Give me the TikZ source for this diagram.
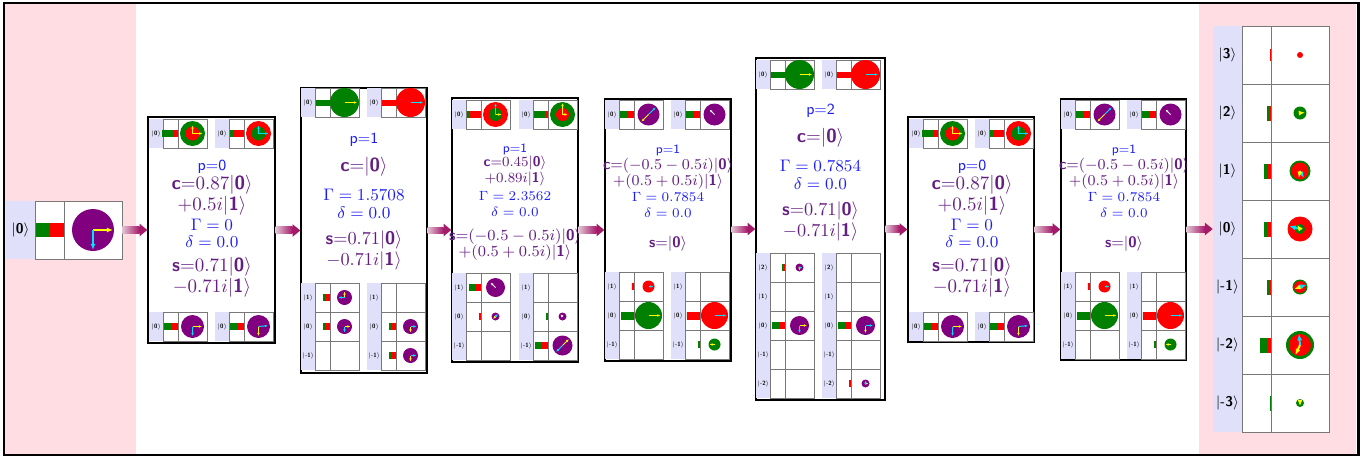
\documentclass[tikz,border=0pt]{standalone}
\usepackage{fix-cm}
\usepackage{amsmath}
\usepackage{fontspec}
\usetikzlibrary{arrows.meta,positioning,calc,fit}

\definecolor{qgreen}{RGB}{0,128,0}
\definecolor{qred}{RGB}{255,0,0}
\definecolor{qpurple}{RGB}{128,0,128}
\definecolor{qyellow}{RGB}{255,255,0}
\definecolor{qcyan}{RGB}{0,225,255}
\definecolor{qlav}{RGB}{224,224,250}
\definecolor{qpink}{RGB}{255,221,226}
\definecolor{qgrid}{RGB}{120,120,120}
\definecolor{qblue}{RGB}{30,30,245}
\definecolor{qtext}{RGB}{100,30,130}
\definecolor{flowL}{RGB}{225,195,210}
\definecolor{flowR}{RGB}{165,25,105}

\newcommand\bsf[1]{\text{\sffamily\bfseries #1}}
\newcommand\ket[1]{|\bsf{#1}\rangle}
\newcommand\pl[2][8.8]{\textcolor{qblue}{\fontsize{#1}{#1}\selectfont\sffamily #2}}
\newcommand\gl[2][9.5]{\textcolor{qblue}{\fontsize{#1}{#1}\selectfont$#2$}}
\newcommand\cl[2][10.8]{\textcolor{qtext}{\fontsize{#1}{#1}\selectfont$#2$}}

% register table: position, scale, name prefix, label font, rows
\newcommand\qtable[5]{%
  \begin{scope}[shift={#1}, scale=#2, name prefix=#3-]
    \foreach \lab/\g/\r/\h/\R/\oc/\ir/\ic/\arr [count=\k from 0] in {#5} {
      \pgfmathsetmacro\yt{58*\k}
      \fill[qlav] (0,\yt) rectangle ++(29,58);
      \fill[white] (29,\yt) rectangle ++(87,58);
      \draw[grid] (29,\yt) rectangle ++(87,58) (58,\yt) -- ++(0,58);
      \fill[qgreen] (58-\r-\g,\yt+29-\h/2) rectangle ++(\g,\h);
      \fill[qred] (58-\r,\yt+29-\h/2) rectangle ++(\r,\h);
      \fill[\oc] (87,\yt+29) circle (\R);
      \fill[\ic] (87,\yt+29) circle (\ir);
      \foreach \acol/\aang/\alen in \arr {
        \ifdim\alen pt>0pt
          \draw[vec, line width=#2*1.1pt, \acol] (87,\yt+29) -- ++(\aang:\alen);
        \fi}
      \node[font=#4, inner sep=0pt] (l\k) at (14.5,\yt+29) {$\lab$};
    }
  \end{scope}}
\newcommand\smalltab[3]{\qtable{#1}{0.5}{#2}{\fontsize{3.5}{4}\selectfont}{#3}}

% shaded flow arrow between two nodes
\newcommand\flow[2]{%
  \shade[left color=flowL, right color=flowR]
    ($(#1.east)+(0,-3.3)$) rectangle ($(#2.west)+(-7.7,3.3)$);
  \fill[flowR] ($(#2.west)+(-7.7,-6.3)$) -- (#2.west) -- ($(#2.west)+(-7.7,6.3)$) -- cycle;}

\begin{document}
\begin{tikzpicture}[x=0.02cm, y=-0.02cm,
  stepbox/.style 2 args={draw, fill=white, line width=0.8pt,
    minimum width=#1*0.02cm, minimum height=#2*0.02cm, inner sep=0pt},
  grid/.style={draw=qgrid, line width=0.45pt},
  vec/.style={-{Latex[length=0pt 3.2, width=0pt 2.6]}},
  txt/.style={inner sep=0pt}
]
  \useasboundingbox (0,0) rectangle (1367,460);
  \fill[qpink] (5,4) rectangle (136,454);
  \fill[qpink] (1199,4) rectangle (1356,454);
  \draw[line width=1.7pt] (4,3) rectangle (1358,455);

  \node[stepbox={127}{226}] (b1) at (211.5,230) {};
  \node[stepbox={126}{285}] (b2) at (364,230.5) {};
  \node[stepbox={126}{264}] (b3) at (515,230) {};
  \node[stepbox={126}{262}] (b4) at (668,230) {};
  \node[stepbox={129}{342}] (b5) at (820.5,229) {};
  \node[stepbox={126}{225}] (b6) at (971,229.5) {};
  \node[stepbox={125}{261}] (b7) at (1123.5,229.5) {};

  % input and output registers
  \qtable{(6,201)}{1}{in}{\fontsize{8}{9}\selectfont}{%
    \ket{0}/14/14/14/21/qpurple/0/qpurple/{qyellow/0/20,qcyan/90/20}}
  \node[inner sep=0pt, fit={(6,201) (122,259)}] (input) {};
  \qtable{(1213,26)}{1}{out}{\fontsize{8}{9}\selectfont}{%
    \ket{3}/0.7/0.7/12/3/qred/0/qred/{white/0/0},
    \ket{2}/2/2/15/6.5/qgreen/0/qgreen/{qyellow/-5/5},
    \ket{1}/3.5/3.5/15/10.5/qgreen/8.5/qred/{qcyan/60/8,qyellow/100/7},
    \ket{0}/3/4/15/12.5/qred/5/qgreen/{qcyan/195/11,qyellow/235/5},
    \ket{-1}/2/2/15/7.5/qgreen/6/qred/{qcyan/-20/7,qyellow/160/6},
    \ket{-2}/7/4/15/14/qgreen/11/qred/{qcyan/-95/11,qyellow/115/11},
    \ket{-3}/1.5/0/15/4/qgreen/0/qgreen/{qyellow/90/3}}
  \node[inner sep=0pt, fit={(1213,26) (1329,432)}] (final) {};

  % boxes 1 and 6
  \foreach \dx/\nm in {0/b1, 760/b6} {
    \smalltab{(149+\dx,119)}{\nm tl}{\ket{0}/24/8/14/25/qgreen/14/qred/{qyellow/0/20,qyellow/-90/16}}
    \smalltab{(215+\dx,119)}{\nm tr}{\ket{0}/8/20/14/25/qred/14/qgreen/{qcyan/0/20,qcyan/-90/16}}
    \smalltab{(149+\dx,312)}{\nm bl}{\ket{0}/14/14/14/23/qpurple/0/qpurple/{qyellow/0/19,qcyan/90/19}}
    \smalltab{(215+\dx,312)}{\nm br}{\ket{0}/14/14/14/23/qpurple/0/qpurple/{qcyan/-5/19,qyellow/90/19}}
    \foreach \yy/\tx [count=\k] in {0/{\pl{p=0}},
        18/{\cl{\bsf{c}{=}0.87\ket{0}}}, 39/{\cl{+0.5i\ket{1}}},
        58/{\gl{\Gamma = 0}}, 75/{\gl{\delta = 0.0}},
        100/{\cl{\bsf{s}{=}0.71\ket{0}}}, 121/{\cl{-0.71i\ket{1}}}}
      \node[txt] (\nm-t\k) at (212+\dx,167+\yy) {\tx};
  }

  % boxes 2 and 5
  \foreach \dx/\dy/\nm in {0/0/b2, 455/-28/b5} {
    \smalltab{(301+\dx,88+\dy)}{\nm tl}{\ket{0}/28/0/12/29/qgreen/0/qgreen/{qyellow/0/25}}
    \smalltab{(367+\dx,88+\dy)}{\nm tr}{\ket{0}/0/28/12/29/qred/0/qred/{qcyan/0/25}}
  }
  \foreach \bx/\by/\nm/\pp/\gg in {364/140/b2/1/1.5708, 820.5/111/b5/2/0.7854}
    \foreach \yy/\tx [count=\k] in {0/{\pl{p=\pp}},
        27/{\cl{\bsf{c}{=}\ket{0}}},
        55/{\gl{\Gamma = \gg}}, 73/{\gl{\delta = 0.0}},
        100/{\cl[10.4]{\bsf{s}{=}0.71\ket{0}}}, 121/{\cl[10.4]{-0.71i\ket{1}}}}
      \node[txt] (\nm-t\k) at (\bx,\by+\yy) {\tx};
  \smalltab{(301,283)}{b2bl}{%
    \ket{1}/7/8/14/15/qpurple/0/qpurple/{qyellow/-90/12,qcyan/180/12},
    \ket{0}/7/8/14/15/qpurple/0/qpurple/{qyellow/0/12,qcyan/90/12},
    \ket{-1}/0/0/0/0/white/0/white/{white/0/0}}
  \smalltab{(367,283)}{b2br}{%
    \ket{1}/0/0/0/0/white/0/white/{white/0/0},
    \ket{0}/7/8/14/15/qpurple/0/qpurple/{qcyan/0/12,qyellow/90/12},
    \ket{-1}/7/8/14/15/qpurple/0/qpurple/{qcyan/0/12,qyellow/90/12}}
  \smalltab{(756,253)}{b5bl}{%
    \ket{2}/3/4/14/8/qpurple/0/qpurple/{qyellow/90/6,qcyan/0/6},
    \ket{1}/0/0/0/0/white/0/white/{white/0/0},
    \ket{0}/13/13/14/19/qpurple/0/qpurple/{qyellow/0/15,qcyan/90/15},
    \ket{-1}/0/0/0/0/white/0/white/{white/0/0},
    \ket{-2}/0/0/0/0/white/0/white/{white/0/0}}
  \smalltab{(822,253)}{b5br}{%
    \ket{2}/0/0/0/0/white/0/white/{white/0/0},
    \ket{1}/0/0/0/0/white/0/white/{white/0/0},
    \ket{0}/13/13/14/19/qpurple/0/qpurple/{qcyan/0/15,qyellow/90/15},
    \ket{-1}/0/0/0/0/white/0/white/{white/0/0},
    \ket{-2}/3/2/14/8/qpurple/0/qpurple/{qyellow/0/6,qcyan/-90/6}}

  % box 3
  \smalltab{(452,100)}{b3tl}{\ket{0}/4/24/14/25/qred/13/qgreen/{qcyan/-90/23,qyellow/0/12}}
  \smalltab{(519,100)}{b3tr}{\ket{0}/22/6/14/25/qgreen/13/qred/{qyellow/-90/23,qyellow/0/10}}
  \smalltab{(452,273)}{b3bl}{%
    \ket{1}/13/12/14/19/qpurple/0/qpurple/{white/225/14},
    \ket{0}/2/3/14/8/qpurple/0/qpurple/{qyellow/135/7,qcyan/-45/7},
    \ket{-1}/0/0/0/0/white/0/white/{white/0/0}}
  \smalltab{(519,273)}{b3br}{%
    \ket{1}/0/0/0/0/white/0/white/{white/0/0},
    \ket{0}/2/3/14/8/qpurple/0/qpurple/{white/225/6},
    \ket{-1}/14/12/14/20/qpurple/0/qpurple/{qyellow/-45/18,qcyan/135/18}}
  \foreach \yy/\tx [count=\k] in {0/{\pl[7.2]{p=1}},
      14/{\cl[8]{\bsf{c}{=}0.45\ket{0}}}, 30/{\cl[8]{+0.89i\ket{1}}},
      47/{\gl[7.6]{\Gamma = 2.3562}}, 63/{\gl[7.6]{\delta = 0.0}},
      88/{\cl[8.8]{\bsf{s}{=}(-0.5-0.5i)\ket{0}}}, 104/{\cl[8.8]{+(0.5+0.5i)\ket{1}}}}
    \node[txt] (b3-t\k) at (515,149+\yy) {\tx};

  % boxes 4 and 7
  \foreach \dx/\nm in {0/b4, 456/b7} {
    \smalltab{(605+\dx,100)}{\nm tl}{\ket{0}/15/13/14/22/qpurple/0/qpurple/{qcyan/-45/20,qyellow/135/20}}
    \smalltab{(671+\dx,100)}{\nm tr}{\ket{0}/15/13/14/22/qpurple/0/qpurple/{white/225/14}}
    \smalltab{(605+\dx,272)}{\nm bl}{%
      \ket{1}/0/5/14/12/qred/0/qred/{qcyan/0/10},
      \ket{0}/27/0/16/27/qgreen/0/qgreen/{qyellow/0/24},
      \ket{-1}/0/0/0/0/white/0/white/{white/0/0}}
    \smalltab{(671+\dx,272)}{\nm br}{%
      \ket{1}/0/0/0/0/white/0/white/{white/0/0},
      \ket{0}/0/27/16/27/qred/0/qred/{qcyan/0/24},
      \ket{-1}/5/0/14/12/qgreen/0/qgreen/{qyellow/180/10}}
    \foreach \yy/\tx [count=\k] in {0/{\pl[7.2]{p=1}},
        16/{\cl[8.6]{\bsf{c}{=}(-0.5-0.5i)\ket{0}}}, 32/{\cl[8.6]{+(0.5+0.5i)\ket{1}}},
        47/{\gl[7.6]{\Gamma = 0.7854}}, 63/{\gl[7.6]{\delta = 0.0}},
        94/{\cl[8.6]{\bsf{s}{=}\ket{0}}}}
      \node[txt] (\nm-t\k) at (668+\dx,150+\yy) {\tx};
  }

  \flow{input}{b1}
  \flow{b1}{b2}
  \flow{b2}{b3}
  \flow{b3}{b4}
  \flow{b4}{b5}
  \flow{b5}{b6}
  \flow{b6}{b7}
  \flow{b7}{final}
\end{tikzpicture}
\end{document}
